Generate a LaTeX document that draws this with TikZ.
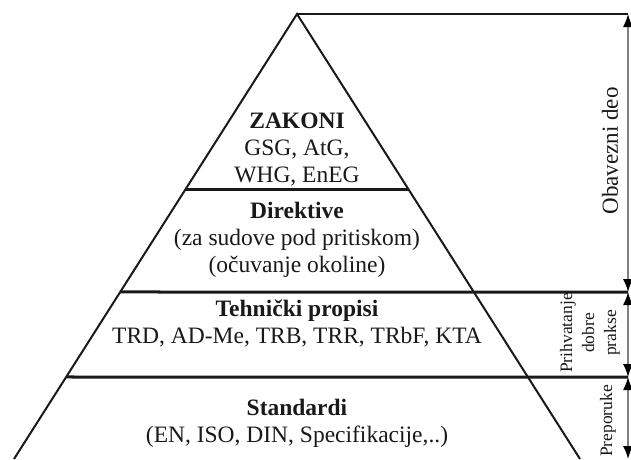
\documentclass[tikz,border=0pt]{standalone}
\usepackage{fontspec}
\setmainfont{Liberation Serif}
\usetikzlibrary{arrows.meta,positioning,calc}
\tikzstyle{edge} = [line width=2pt, black!90, line join=miter]
\tikzstyle{level} = [line width=3pt, black!90]
\tikzstyle{span} = [gray, line width=1.5pt, {Latex[length=13pt,width=10pt,color=black]}-{Latex[length=13pt,width=10pt,color=black]}]
\tikzstyle{layer} = [align=center, inner sep=0pt, text=black!90, font=\fontsize{23.5}{27}\selectfont]
\tikzstyle{side} = [rotate=90, align=center, inner sep=0pt, text=black!90]

\begin{document}
\begin{tikzpicture}[x=1pt, y=-1pt]
    \useasboundingbox (0,0) rectangle (631,459);
    % Pyramid corners
    \coordinate (apex) at (297,14);
    \coordinate (bl) at (14,459);
    \coordinate (br) at (580,459);
    \coordinate (top) at (628,14);
    \coordinate (bot) at (628,459);
    % Level lines
    \coordinate (l1) at ($(apex)!0.3933!(bl)$);
    \coordinate (m1) at ($(apex)!0.3933!(br)$);
    \coordinate (l2) at ($(apex)!0.6247!(bl)$);
    \coordinate (r2) at (628,292);
    \coordinate (l3) at ($(apex)!0.8157!(bl)$);
    \coordinate (r3) at (628,377);

    \draw[edge] (bl) -- (apex) -- (br);
    \draw[edge] (apex) -- (top);
    \draw[level] (l1) -- (m1);
    \draw[level] (l2) -- (r2);
    \draw[level] (l3) -- (r3);

    % Layers
    \node[layer] (zakoni) at (297,150) {\textbf{ZAKONI}\\GSG, AtG,\\WHG, EnEG};
    \node[layer] (direktive) at (297,240) {\textbf{Direktive}\\(za sudove pod pritiskom)\\(očuvanje okoline)};
    \node[layer] (propisi) at (297,324) {\textbf{Tehnički propisi}\\TRD, AD-Me, TRB, TRR, TRbF, KTA};
    \node[layer] (standardi) at (297,423) {\textbf{Standardi}\\(EN, ISO, DIN, Specifikacije,..)};

    % Side spans
    \draw[span] (top) -- (r2);
    \draw[span] (r2) -- (r3);
    \draw[span] (r3) -- (bot);
    \node[side, font=\fontsize{23}{27}\selectfont] (obavezni) at (610,151) {Obavezni deo};
    \node[side, font=\fontsize{17.5}{22}\selectfont] (prakse) at (590,333) {Prihvatanje\\dobre\\prakse};
    \node[side, font=\fontsize{17.5}{22}\selectfont] (preporuke) at (608,421) {Preporuke};
\end{tikzpicture}
\end{document}
